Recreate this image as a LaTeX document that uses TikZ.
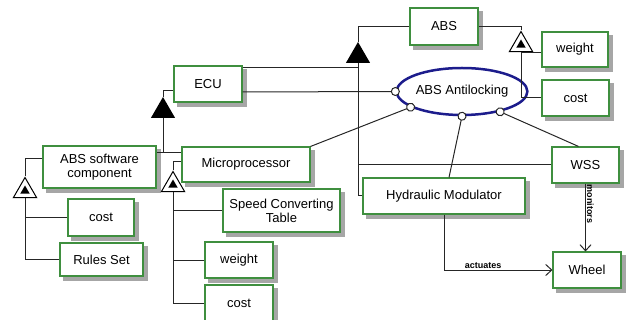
\documentclass[tikz,border=0pt]{standalone}
\usepackage{fontspec}
\setmainfont{Liberation Sans}
\usetikzlibrary{shapes.geometric,arrows.meta,backgrounds}
\definecolor{featgreen}{HTML}{3F8F3F}
\definecolor{goalblue}{HTML}{1C1C8C}
\tikzset{
  feat/.style={draw=featgreen,line width=1.1pt,fill=white,inner sep=0pt,align=center,
    font=\fontsize{13}{14}\selectfont},
  root/.style={feat,line width=2.5pt},
  goal/.style={ellipse,draw=goalblue,line width=2.5pt,fill=white,inner sep=0pt,font=\fontsize{13}{14}\selectfont},
  link/.style={draw=black!85,line width=1pt},
  mand/.style={regular polygon,regular polygon sides=3,fill=black,inner sep=0pt,minimum size=28pt},
  alt/.style={regular polygon,regular polygon sides=3,draw=black,line width=1pt,fill=white,inner sep=0pt,minimum size=27pt},
  altdot/.style={regular polygon,regular polygon sides=3,fill=black,inner sep=0pt,minimum size=11pt},
  contrib/.style={link,-{Circle[fill=white,length=9pt]},shorten >=-4.5pt},
  rel/.style={link,-{Straight Barb[length=6pt,width=11pt]}},
  rellabel/.style={font=\fontsize{9}{10}\selectfont\bfseries,inner sep=1pt},
  boxshadow/.style={fill=black!35}
}
\begin{document}
\begin{tikzpicture}[x=1pt,y=-1pt]
\useasboundingbox (0,0) rectangle (628,320);
\node[root,minimum width=68pt,minimum height=37pt](abs)at(444,26.5){ABS};
\node[feat,minimum width=66pt,minimum height=35pt](weightA)at(575,49.5){weight};
\node[feat,minimum width=67pt,minimum height=36pt](costA)at(575.5,98){cost};
\node[goal,minimum width=112pt,minimum height=47pt](antilock)at(462,91.5){ABS Antilocking};
\node[feat,minimum width=68pt,minimum height=36pt](ecu)at(208,84){ECU};
\node[feat,minimum width=113pt,minimum height=42pt](sw)at(99.5,167){ABS software\\component};
\node[feat,minimum width=128pt,minimum height=35pt](mp)at(246,164.5){Microprocessor};
\node[feat,minimum width=66pt,minimum height=37pt](costB)at(101,217.5){cost};
\node[feat,minimum width=83pt,minimum height=33pt](rs)at(101.5,259.5){Rules Set};
\node[feat,minimum width=117pt,minimum height=43pt](sct)at(281.5,210.5){Speed Converting\\Table};
\node[feat,minimum width=68pt,minimum height=36pt](weightC)at(239,260){weight};
\node[feat,minimum width=68pt,minimum height=36pt](costC)at(239,303){cost};
\node[feat,minimum width=162pt,minimum height=36pt](hm)at(444,196){Hydraulic Modulator};
\node[feat,minimum width=67pt,minimum height=36pt](wss)at(585.5,165){WSS};
\node[feat,minimum width=68pt,minimum height=36pt](wheel)at(587,270){Wheel};
\begin{scope}[on background layer]
\foreach \n in {abs,weightA,costA,ecu,sw,mp,costB,rs,sct,weightC,costC,hm,wss,wheel}
  \fill[boxshadow]([xshift=4pt,yshift=-4pt]\n.south west)rectangle([xshift=4pt,yshift=-4pt]\n.north east);
\end{scope}
\node[mand](tAbs)at(358,56){};
\node[mand](tEcu)at(163,111){};
\node[alt](tOpt)at(521,45){};
\node[altdot](tOptIn)at(tOpt.center){};
\node[alt](tSw)at(25,191){};
\node[altdot](tSwIn)at(tSw.center){};
\node[alt](tMp)at(173,185){};
\node[altdot](tMpIn)at(tMp.center){};
\coordinate(ecuTop)at([yshift=-2pt]ecu.north east);
\coordinate(ecuL)at([yshift=-7pt]ecu.west);
\coordinate(jEcu)at(163,153);
\coordinate(swL)at([yshift=8pt]sw.west);
\coordinate(mpL)at([yshift=3pt]mp.west);
\coordinate(wA)at([yshift=-3.5pt]weightA.west);
\draw[link](abs.west)-|(tAbs.north);
\draw[link](tAbs.south)|-(hm.west);
\draw[link](ecuTop)--(ecuTop-|tAbs.south);
\draw[link](wss.west)--(wss.west-|tAbs.south);
\draw[link](abs.east)-|(tOpt.north);
\draw[link](tOpt.south)|-(costA.west);
\draw[link](wA)--(wA-|tOpt.south);
\draw[link](antilock.10)--(antilock.10-|tOpt.south);
\draw[link](ecuL)-|(tEcu.north);
\draw[link](tEcu.south)--(jEcu);
\draw[link](sw.east|-jEcu)--(mp.west|-jEcu);
\draw[link](swL)-|(tSw.north);
\draw[link](tSw.south)|-(rs.west);
\draw[link](costB.west)--(costB.west-|tSw.south);
\draw[link](mpL)-|(tMp.north);
\draw[link](tMp.south)|-(costC.west);
\draw[link](sct.west)--(sct.west-|tMp.south);
\draw[link](weightC.west)--(weightC.west-|tMp.south);
\draw[contrib]([yshift=-8pt]ecu.east)--(antilock.west);
\draw[contrib](mp.north east)--(antilock.197);
\draw[contrib]([xshift=5pt]hm.north)--(antilock.south);
\draw[contrib]([xshift=-7pt]wss.north)--(antilock.-28);
\draw[rel](wss.south)--(wss.south|-wheel.north)node[rellabel,pos=0.3,rotate=-90,anchor=south]{monitors};
\draw[rel](hm.south)|-(wheel.west)node[rellabel,pos=0.68,above]{actuates};
\end{tikzpicture}
\end{document}
